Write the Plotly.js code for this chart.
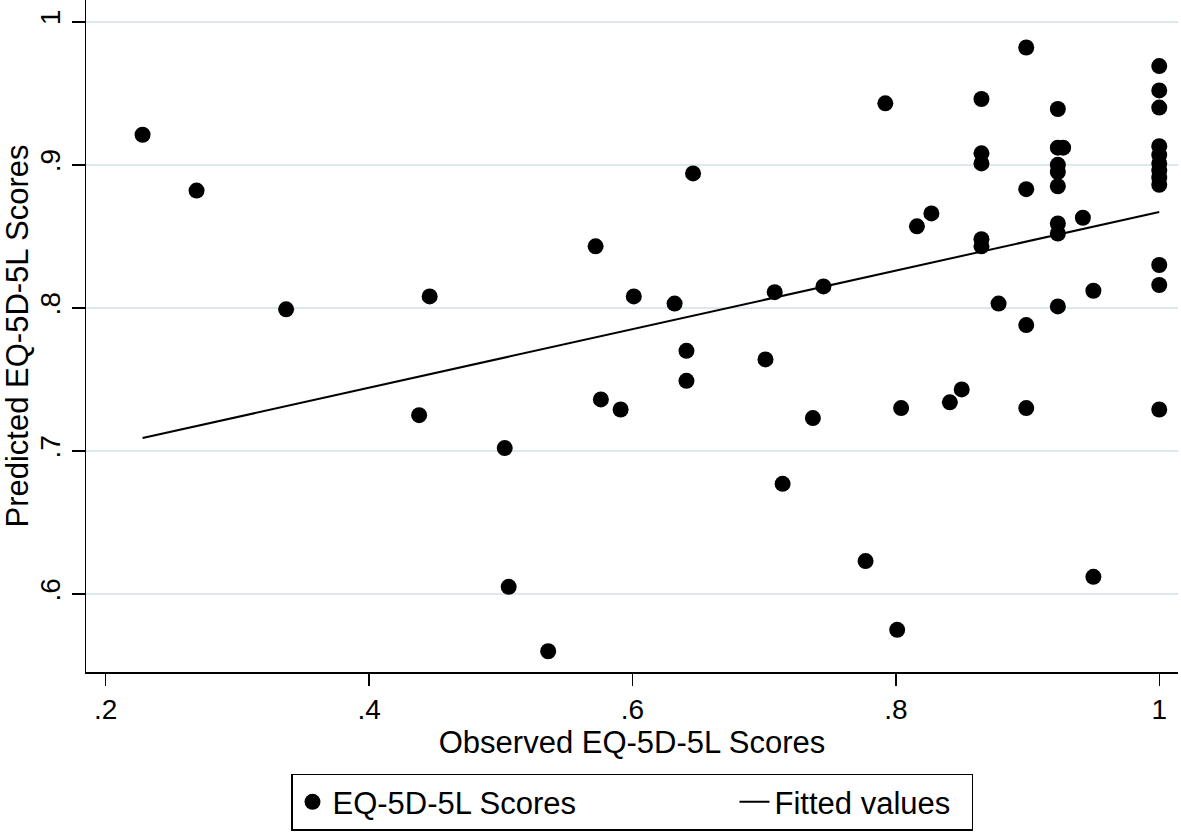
<!DOCTYPE html>
<html>
<head>
<meta charset="utf-8">
<script src="https://cdn.plot.ly/plotly-3.0.1.min.js"></script>
<style>
  html, body { margin: 0; padding: 0; background: #ffffff; }
  #chart { width: 1181px; height: 836px; }
</style>
</head>
<body>
<div id="chart"></div>
<script>
// Observed EQ-5D-5L scores (x) and predicted scores (y)
const observed = [
  0.228, 0.269, 0.337, 0.438, 0.446, 0.503, 0.506, 0.536, 0.572, 0.576,
  0.591, 0.601, 0.632, 0.641, 0.641, 0.646, 0.701, 0.708, 0.714, 0.737,
  0.745, 0.777, 0.792, 0.801, 0.804, 0.816, 0.827, 0.841, 0.850, 0.865,
  0.865, 0.865, 0.865, 0.865, 0.878, 0.899, 0.899, 0.899, 0.899, 0.923,
  0.923, 0.927, 0.923, 0.923, 0.923, 0.923, 0.923, 0.923, 0.942, 0.950,
  0.950, 1.000, 1.000, 1.000, 1.000, 1.000, 1.000, 1.000, 1.000, 1.000,
  1.000, 1.000, 1.000
];
const predicted = [
  0.921, 0.882, 0.799, 0.725, 0.808, 0.702, 0.605, 0.560, 0.843, 0.736,
  0.729, 0.808, 0.803, 0.770, 0.749, 0.894, 0.764, 0.811, 0.677, 0.723,
  0.815, 0.623, 0.943, 0.575, 0.730, 0.857, 0.866, 0.734, 0.743, 0.946,
  0.908, 0.901, 0.848, 0.843, 0.803, 0.982, 0.883, 0.788, 0.730, 0.939,
  0.912, 0.912, 0.900, 0.895, 0.885, 0.859, 0.852, 0.801, 0.863, 0.812,
  0.612, 0.969, 0.952, 0.940, 0.913, 0.907, 0.901, 0.896, 0.891, 0.886,
  0.830, 0.816, 0.729
];
// Fitted regression line end points
const fittedX = [0.228, 1.000];
const fittedY = [0.709, 0.867];

const xTickVals = [0.2, 0.4, 0.6, 0.8, 1.0];
const xTickText = ['.2', '.4', '.6', '.8', '1'];
const yTickVals = [0.6, 0.7, 0.8, 0.9, 1.0];
const yTickText = ['.6', '.7', '.8', '.9', '1'];

const FONT = 'Liberation Sans, Arial, Helvetica, sans-serif';

const traces = [
  {
    type: 'scatter', mode: 'markers', name: 'EQ-5D-5L Scores',
    x: observed, y: predicted,
    marker: { color: '#000000', size: 16, line: { width: 0 } },
    legendwidth: 397,
    hoverinfo: 'x+y'
  },
  {
    type: 'scatter', mode: 'lines', name: 'Fitted values',
    x: fittedX, y: fittedY,
    line: { color: '#000000', width: 2 },
    legendwidth: 192
  }
];

const layout = {
  width: 1181, height: 836,
  paper_bgcolor: '#ffffff', plot_bgcolor: '#ffffff',
  font: { family: FONT, color: '#000000', size: 28 },
  margin: { l: 86, r: 3, t: 0, b: 164 },
  showlegend: true,
  xaxis: {
    range: [0.18504, 1.01424],
    tickvals: xTickVals, ticktext: xTickText,
    ticks: 'outside', ticklen: 12, tickwidth: 1.5, tickcolor: '#000000',
    showgrid: false, zeroline: false,
    showline: true, linecolor: '#000000', linewidth: 1.5,
    tickfont: { size: 28, family: FONT },
    title: { text: 'Observed EQ-5D-5L Scores', font: { size: 31, family: FONT }, standoff: 2 }
  },
  yaxis: {
    range: [0.5455, 1.0152],
    tickvals: yTickVals, ticktext: yTickText,
    tickangle: -90,
    ticks: 'outside', ticklen: 13, tickwidth: 1.5, tickcolor: '#000000',
    showgrid: true, gridcolor: '#dde8ec', gridwidth: 1.5,
    zeroline: false,
    showline: true, linecolor: '#000000', linewidth: 1.5,
    tickfont: { size: 28, family: FONT },
    title: { text: 'Predicted EQ-5D-5L Scores', font: { size: 31, family: FONT }, standoff: 6 }
  },
  legend: {
    orientation: 'h',
    x: 0.5, xanchor: 'center',
    y: -0.1513, yanchor: 'top',
    bordercolor: '#000000', borderwidth: 1.5,
    bgcolor: '#ffffff',
    font: { size: 31, family: FONT }
  }
};

Plotly.newPlot('chart', traces, layout, { displayModeBar: false, staticPlot: true });
</script>
</body>
</html>
